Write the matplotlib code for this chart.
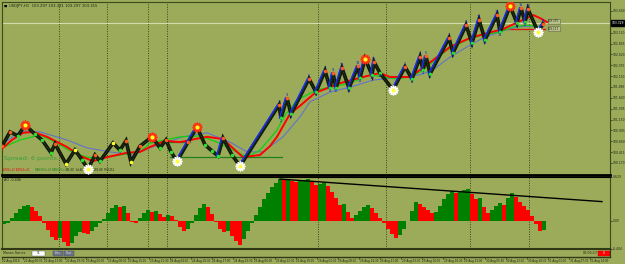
"""USDJPY H1 chart with zigzag, moving averages and Awesome Oscillator."""

import numpy as np
import matplotlib
matplotlib.use("Agg")
import matplotlib.pyplot as plt
from matplotlib.lines import Line2D
from matplotlib.patches import Rectangle
from matplotlib.transforms import blended_transform_factory

BG = "#9bab5a"
DARK = "#1e2410"
FRAME = "#3e4a1e"

# ---- data (bar index, price) ----
zz_bar = [0, 8, 16, 23, 33, 40, 49, 53, 64, 73, 80, 86, 93, 98, 111, 118, 124, 129,
          138, 150, 158, 164, 169, 175, 186, 195, 203, 210, 216, 221, 230, 238, 277,
          279, 285, 289, 307, 314, 323, 328, 331, 334, 340, 347, 356, 358, 363, 370,
          372, 378, 391, 403, 410, 418, 421, 424, 428, 447, 451, 464, 470, 477, 483,
          495, 498, 508, 515, 519, 523, 526, 536, 541]
zz_price = [100.55, 100.87, 100.78, 101.03, 100.82, 100.69, 100.40, 100.60, 100.15,
            100.46, 100.24, 100.03, 100.35, 100.21, 100.62, 100.46, 100.67, 100.19,
            100.55, 100.76, 100.51, 100.69, 100.42, 100.21, 100.64, 100.98, 100.58,
            100.44, 100.33, 100.73, 100.35, 100.10, 101.48, 101.18, 101.64, 101.27,
            102.07, 101.77, 102.25, 101.86, 102.20, 101.86, 102.31, 101.86, 102.36,
            102.09, 102.52, 102.16, 102.45, 102.20, 101.82, 102.34, 102.07, 102.56,
            102.27, 102.58, 102.18, 102.99, 102.65, 103.28, 102.88, 103.40, 102.95,
            103.51, 103.13, 103.71, 103.33, 103.67, 103.35, 103.64, 103.13, 103.31]

red_bar = [0, 10, 21, 31, 45, 51, 65, 78, 91, 101, 115, 125, 138, 148, 163, 178, 193,
           205, 221, 233, 241, 258, 268, 275, 288, 298, 313, 338, 361, 378, 388, 408,
           418, 431, 448, 468, 485, 501, 516, 525, 531, 538, 545]
red_ma = [100.49, 100.69, 100.85, 100.87, 100.76, 100.69, 100.53, 100.33, 100.21,
          100.28, 100.35, 100.40, 100.42, 100.53, 100.67, 100.64, 100.71, 100.76,
          100.71, 100.46, 100.30, 100.35, 100.55, 100.76, 101.28, 101.46, 101.75,
          101.97, 102.11, 102.20, 102.11, 102.11, 102.27, 102.49, 102.79, 102.99,
          103.10, 103.19, 103.35, 103.44, 103.51, 103.44, 103.35]

green_bar = [0, 18, 38, 55, 68, 85, 98, 118, 138, 148, 178, 198, 215, 231, 245, 258,
             275, 283, 295, 315, 328, 348, 368, 381, 395, 408, 418, 431, 445, 465, 481,
             498, 511, 525, 538]
green_ma = [100.51, 100.69, 100.80, 100.62, 100.44, 100.30, 100.28, 100.35, 100.42,
            100.62, 100.76, 100.78, 100.64, 100.46, 100.30, 100.46, 100.91, 101.25,
            101.59, 101.82, 101.88, 101.97, 102.16, 102.11, 102.07, 102.11, 102.22,
            102.45, 102.72, 102.95, 103.06, 103.13, 103.24, 103.28, 103.24]

blue_bar = [0, 18, 38, 65, 85, 108, 131, 148, 181, 205, 228, 245, 261, 281, 298, 308,
            328, 348, 371, 408, 418, 431, 448, 465, 481, 498, 515, 531, 541]
blue_ma = [100.58, 100.89, 100.87, 100.69, 100.51, 100.42, 100.35, 100.51, 100.76,
           100.85, 100.64, 100.42, 100.42, 100.76, 101.21, 101.55, 101.77, 101.88,
           102.04, 102.13, 102.16, 102.27, 102.56, 102.79, 102.99, 103.13, 103.24,
           103.26, 103.24]

star_high = [23, 150, 195, 363, 508]
star_low = [86, 175, 238, 391, 536]
yellow_dots = [64, 73, 111, 129]

bid_price = 103.329
ask_labels = [("103.375", 103.37), ("103.117", 103.20)]
support_lines = [(168, 280, 100.30, "#1f7f1f"), (148, 188, 100.64, "#1f7f1f"),
                 (498, 543, 103.19, "#e01010")]
separators = [57, 105, 146, 165, 316, 384, 468, 527]

# 103.355 sits under the current-price box, so it is not shown
price_ticks = [103.600 - 0.245 * i for i in range(15) if i != 1]

# Awesome oscillator, one value every 4 bars
ao_vals = [-0.044, -0.029, 0.044, 0.117, 0.175, 0.219, 0.234, 0.204, 0.146, 0.073,
           -0.029, -0.131, -0.234, -0.277, -0.248, -0.307, -0.365, -0.321, -0.219,
           -0.161, -0.175, -0.190, -0.146, -0.088, -0.029, 0.029, 0.117, 0.190, 0.234,
           0.204, 0.219, 0.117, -0.015, -0.029, 0.044, 0.117, 0.161, 0.131, 0.146,
           0.102, 0.058, 0.088, 0.073, 0.015, -0.088, -0.146, -0.117, -0.029, 0.088,
           0.190, 0.248, 0.204, 0.102, -0.015, -0.117, -0.161, -0.146, -0.219, -0.292,
           -0.350, -0.263, -0.146, -0.029, 0.088, 0.204, 0.307, 0.394, 0.482, 0.540,
           0.599, 0.584, 0.599, 0.569, 0.555, 0.569, 0.584, 0.599, 0.555, 0.511, 0.526,
           0.540, 0.496, 0.409, 0.321, 0.234, 0.248, 0.131, 0.044, 0.088, 0.146, 0.204,
           0.234, 0.190, 0.117, 0.044, -0.029, -0.117, -0.190, -0.248, -0.204, -0.117,
           0.0, 0.146, 0.277, 0.248, 0.204, 0.161, 0.117, 0.131, 0.219, 0.307, 0.380,
           0.423, 0.394, 0.409, 0.438, 0.453, 0.380, 0.307, 0.321, 0.204, 0.117, 0.161,
           0.219, 0.263, 0.234, 0.321, 0.394, 0.336, 0.277, 0.219, 0.161, 0.073, -0.044,
           -0.146, -0.131]
ao_trend = ([278, 600], [0.599, 0.276])

time_labels = ["22 Aug 2016", "22 Aug 06:30", "22 Aug 13:00", "22 Aug 19:30",
               "23 Aug 02:00", "23 Aug 08:30", "23 Aug 15:00", "23 Aug 21:30",
               "24 Aug 04:00", "24 Aug 10:30", "24 Aug 17:00", "24 Aug 23:30",
               "25 Aug 06:00", "25 Aug 12:30", "25 Aug 19:00", "26 Aug 01:30",
               "26 Aug 08:00", "26 Aug 14:30", "26 Aug 21:00", "29 Aug 03:30",
               "29 Aug 10:00", "29 Aug 16:30", "29 Aug 23:00", "30 Aug 05:30",
               "30 Aug 12:00", "30 Aug 18:30", "31 Aug 01:00", "31 Aug 07:30",
               "31 Aug 14:00"]
time_step = 21


def fx(px):
    return px / 625


def fy(py):
    return 1 - py / 264


fig = plt.figure(figsize=(6.25, 2.64), dpi=100, facecolor=BG)
ax = fig.add_axes([fx(2), fy(175), 608 / 625, 173 / 264], facecolor=BG)
ax_ao = fig.add_axes([fx(2), fy(249), 608 / 625, 72 / 264], facecolor=BG)

for a in (ax, ax_ao):
    a.set_xlim(0, 608)
    for s in a.spines.values():
        s.set_color(FRAME)
        s.set_linewidth(0.8)
    for b in separators:
        a.axvline(b, color="#3a4420", lw=0.7, ls=(0, (1, 1.5)), zorder=1)
    a.set_xticks([])
ax.spines["bottom"].set_color("black")
ax.spines["bottom"].set_linewidth(2)
ax_ao.spines["top"].set_color("black")
ax_ao.spines["bottom"].set_color("#303818")
ax_ao.spines["bottom"].set_linewidth(1.5)

# ---- price panel ----
ax.set_ylim(99.898, 103.803)
ax.yaxis.tick_right()
ax.set_yticks(price_ticks)
ax.set_yticklabels([f"{t:.3f}" for t in price_ticks])
ax.tick_params(axis="y", labelsize=2.2, length=1.2, pad=0.6, colors=DARK, width=0.5)

ax.axhline(bid_price, color="#d4dbab", lw=0.8, zorder=2)
for x0, x1, p, c in support_lines:
    ax.plot([x0, x1], [p, p], color=c, lw=0.9, zorder=3)

ax.plot(blue_bar, blue_ma, color="#6472c8", lw=0.8, zorder=4)
ax.plot(green_bar, green_ma, color="#10d010", lw=0.9, zorder=4)
ax.plot(red_bar, red_ma, color="#ff0000", lw=1.4, zorder=4)

ax.plot(zz_bar, zz_price, color="#101808", lw=2.6, zorder=5, solid_joinstyle="miter")
ax.plot(zz_bar, zz_price, color="#33502a", lw=0.6, zorder=5, ls=(0, (1, 1)))

# blue zigzag on rising legs of the rally
for i in range(1, len(zz_bar)):
    if zz_bar[i - 1] >= 170 and zz_price[i] > zz_price[i - 1]:
        ax.plot([zz_bar[i - 1] - 1.5, zz_bar[i] - 1.5],
                [zz_price[i - 1], zz_price[i]], color="#1830ff", lw=1.0, zorder=6)

# pivot dots and numbers
count = 0
for i, (b, p) in enumerate(zip(zz_bar, zz_price)):
    prev_p = zz_price[i - 1] if i > 0 else p - 1
    is_high = p > prev_p
    if b in star_high or b in star_low:
        continue
    if b in yellow_dots:
        col = "#ffff30"
    else:
        col = "#ff5a20" if is_high else "#30e030"
    ax.plot(b, p, "o", ms=2.6, color=col, mec="none", zorder=7)
    if b > 270:
        count += 1
        ax.text(b, p + (0.07 if is_high else -0.07), str(count), fontsize=2.4,
                color="#1010d0", ha="center", va="center", zorder=8)
        if b == 378:
            count = 0

for b in star_high:
    p = zz_price[zz_bar.index(b)]
    ax.plot(b, p, marker=(12, 1, 0), ms=7, color="#ff3010", mec="#ff3010", zorder=7)
    ax.plot(b, p, "o", ms=3, color="#ffff20", mec="none", zorder=8)
for b in star_low:
    p = zz_price[zz_bar.index(b)]
    ax.plot(b, p, marker=(12, 1, 0), ms=7, color="#ffffff", mec="#ffffff", zorder=7)
    ax.plot(b, p, "o", ms=3, color="#ffff40", mec="none", zorder=8)

for txt, p in ask_labels:
    ax.text(546, p, txt, fontsize=2.0, color=DARK, va="center", ha="left", zorder=9,
            bbox=dict(boxstyle="square,pad=0.15", fc="#b8c08a", ec="#606848", lw=0.4))

ax.text(0.003, 0.988, "\u25a0", transform=ax.transAxes, fontsize=2.5, va="top", color="black")
ax.text(0.011, 0.99, "USDJPY,H1  103.297 103.331 103.297 103.315", transform=ax.transAxes,
        fontsize=2.7, va="top", color=DARK)
ax.text(0.003, 0.098, "Spread: 6 points.", transform=ax.transAxes, fontsize=4.6,
        color="#3a9e3a", va="center")
ax.text(0.002, 0.03, "ATR5=22 ATR14=41", transform=ax.transAxes, fontsize=1.9,
        color="#e01010", va="center")
ax.text(0.055, 0.03, "RANGE0=28 RANGE5=30", transform=ax.transAxes, fontsize=1.9,
        color="#1f7f1f", va="center")
ax.text(0.105, 0.03, "H1:00  1d:46  D1:22  W1:88  MN:212", transform=ax.transAxes,
        fontsize=1.9, color=DARK, va="center")

# current price box on the axis
ax.text(1.002, (bid_price - 99.898) / (103.803 - 99.898), f"{bid_price:.3f}",
        transform=ax.transAxes, fontsize=2.2, color="white", va="center", ha="left",
        bbox=dict(boxstyle="square,pad=0.2", fc="black", ec="black"), zorder=10)

# ---- AO panel ----
ao_x = np.arange(len(ao_vals)) * 4
ao_cols = ["#008000" if i == 0 or ao_vals[i] >= ao_vals[i - 1] else "#ff0000"
           for i in range(len(ao_vals))]
ax_ao.bar(ao_x, ao_vals, width=4, color=ao_cols, align="edge", lw=0, zorder=2)
ax_ao.plot(ao_trend[0], ao_trend[1], color="black", lw=1, zorder=3)
ax_ao.set_ylim(-0.404, 0.629)
ax_ao.yaxis.tick_right()
ax_ao.set_yticks([0.629, 0.0, -0.404])
ax_ao.set_yticklabels(["0.629", "0.00", "-0.404"])
ax_ao.tick_params(axis="y", labelsize=2.2, length=1.2, pad=0.6, colors=DARK, width=0.5)
ax_ao.text(0.003, 0.985, "AO -0.446", transform=ax_ao.transAxes, fontsize=2.4,
           color=DARK, va="top")

# ---- bottom strip ----
fig.add_artist(Line2D([fx(2), fx(610)], [fy(257), fy(257)], color="#303818", lw=1))
fig.add_artist(Line2D([fx(610), fx(610)], [fy(249), fy(257)], color="#303818", lw=0.8))
fig.text(fx(3), fy(253.5), "Moses Series", fontsize=2.4, color=DARK, va="center")
fig.add_artist(Rectangle((fx(32), fy(256)), fx(13), 5 / 264, transform=fig.transFigure,
                         fc="white", ec="#505050", lw=0.3))
fig.text(fx(38.5), fy(253.5), "11", fontsize=2.2, color=DARK, va="center", ha="center")
for x0, lab in [(53, "Prev"), (64, "Next")]:
    fig.add_artist(Rectangle((fx(x0), fy(256)), fx(10), 5 / 264, transform=fig.transFigure,
                             fc="#6c7486", ec="#404858", lw=0.3))
    fig.text(fx(x0 + 5), fy(253.5), lab, fontsize=1.9, color="#d8dce8", va="center",
             ha="center")
fig.text(fx(583), fy(253.5), "00:05:17", fontsize=2.4, color=DARK, va="center")
fig.add_artist(Rectangle((fx(598), fy(256)), fx(12), 5 / 264, transform=fig.transFigure,
                         fc="#ff0000", ec="#c00000", lw=0.3))
fig.text(fx(604), fy(253.5), "8", fontsize=2.0, color="white", va="center", ha="center")

trans = blended_transform_factory(ax_ao.transData, fig.transFigure)
for i, lab in enumerate(time_labels):
    xb = i * time_step
    ax_ao.plot([xb, xb], [fy(257), fy(258.5)], color=DARK, lw=0.4, transform=trans,
               clip_on=False)
    ax_ao.text(xb + 0.5, fy(261), lab, transform=trans, fontsize=1.95, color=DARK,
               va="center", ha="left", clip_on=False)

fig.savefig("out.png", dpi=100, facecolor=BG)
